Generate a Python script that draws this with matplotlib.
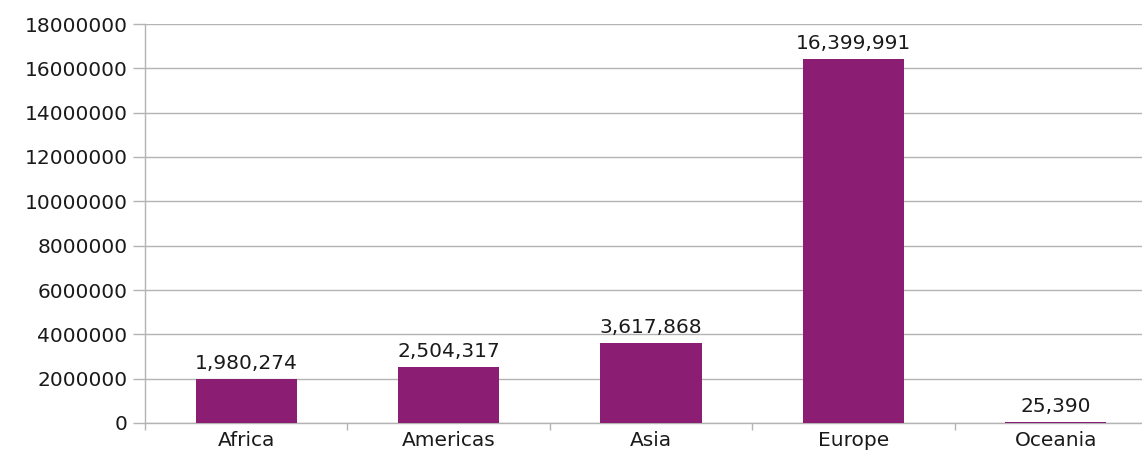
import matplotlib.pyplot as plt
import numpy as np

regions = ['Africa', 'Americas', 'Asia', 'Europe', 'Oceania']
values = [1980274, 2504317, 3617868, 16399991, 25390]
yticks = list(range(0, 18000001, 2000000))

# wide sans to get close to the stretched look of the original
plt.rcParams['font.family'] = ['DejaVu Sans']

fig = plt.figure(figsize=(11.42, 4.53), dpi=100)
# axes run off the right edge like in the original screenshot
ax = fig.add_axes([145 / 1142, 30 / 453, 1012 / 1142, 399 / 453])

x = np.arange(len(regions))
ax.bar(x, values, width=0.5, color='#8b1e72', zorder=3)

for xi, v in zip(x, values):
    ax.annotate(f'{v:,}', (xi, v), xytext=(0, 4.5), textcoords='offset points',
                ha='center', va='bottom', fontsize=14.5, color='#1a1a1a')

ax.set_xlim(-0.5, len(regions) - 0.5)
ax.set_ylim(0, 18000000)
ax.set_yticks(yticks)
ax.set_yticklabels([str(t) for t in yticks], fontsize=14.5, color='#1a1a1a')
ax.yaxis.grid(True, color='#b3b3b3', linewidth=1, zorder=0)

ax.set_xticks(x)
ax.set_xticklabels(regions, fontsize=14.5, color='#1a1a1a')
ax.set_xticks(np.arange(-0.5, len(regions)), minor=True)
ax.tick_params(axis='x', which='major', length=0, pad=6)
ax.tick_params(axis='x', which='minor', length=5, color='#b3b3b3', width=1)
ax.tick_params(axis='y', length=8.6, color='#b3b3b3', width=1, pad=4)

for s in ['top', 'right']:
    ax.spines[s].set_visible(False)
for s in ['left', 'bottom']:
    ax.spines[s].set_color('#b3b3b3')
    ax.spines[s].set_linewidth(1)

plt.savefig('out.png', dpi=100)
